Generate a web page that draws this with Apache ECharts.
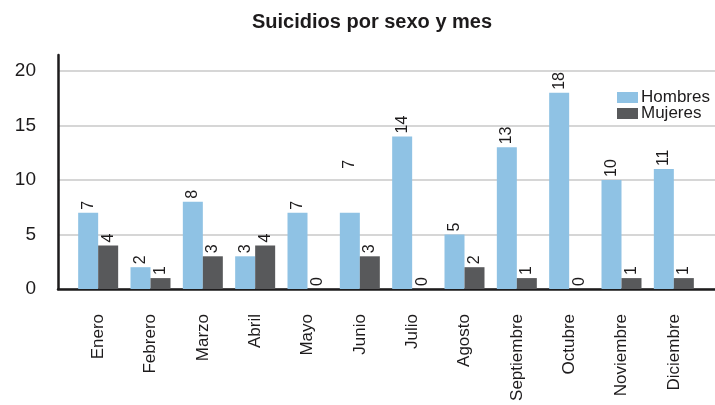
<!DOCTYPE html>
<html>
<head>
<meta charset="utf-8">
<script src="https://cdn.jsdelivr.net/npm/echarts@6/dist/echarts.min.js"></script>
<style>
  html, body { margin: 0; padding: 0; background: #fff; }
  #chart { width: 715px; height: 405px; }
</style>
</head>
<body>
<div id="chart"></div>
<script>
// Monthly suicide counts split by sex
const meses = ['Enero', 'Febrero', 'Marzo', 'Abril', 'Mayo', 'Junio', 'Julio',
  'Agosto', 'Septiembre', 'Octubre', 'Noviembre', 'Diciembre'];
const hombres = [7, 2, 8, 3, 7, 7, 14, 5, 13, 18, 10, 11];
const mujeres = [4, 1, 3, 4, 0, 3, 0, 2, 1, 0, 1, 1];
const yTicks = [0, 5, 10, 15, 20];

const FONT = '"Liberation Sans", Arial, Helvetica, sans-serif';
const INK = '#1d1b1c';

const chart = echarts.init(document.getElementById('chart'));

const valueLabel = {
  show: true,
  position: 'top',
  rotate: 90,
  align: 'left',
  verticalAlign: 'middle',
  distance: 3,
  color: INK,
  fontFamily: FONT,
  fontSize: 16
};

// June's male label sits well above its bar
const hombresData = hombres.map((v, i) =>
  meses[i] === 'Junio' ? { value: v, label: { distance: 44 } } : v);

chart.setOption({
  animation: false,
  title: {
    text: 'Suicidios por sexo y mes',
    left: 247,
    top: 7,
    textStyle: { fontFamily: FONT, fontSize: 20, fontWeight: 'bold', color: INK }
  },
  legend: {
    orient: 'vertical',
    left: 612,
    top: 84,
    itemWidth: 21,
    itemHeight: 11,
    itemGap: -1,
    icon: 'rect',
    textStyle: { fontFamily: FONT, fontSize: 17, color: INK, padding: [0, 0, 0, -2] },
    data: ['Hombres', 'Mujeres']
  },
  grid: [
    // gridlines and tick labels
    { left: 58, right: 0, top: 71, bottom: 116 },
    // frame lines (taller vertical axis)
    { left: 58, right: 0, top: 55, bottom: 116 },
    // bars
    { left: 72, right: 15, top: 71, bottom: 116 }
  ],
  xAxis: [
    { gridIndex: 0, type: 'value', show: false },
    {
      gridIndex: 1, type: 'value', min: 0, max: 1,
      axisLine: { show: true, onZero: false, lineStyle: { color: INK, width: 2.5 } },
      axisTick: { show: false }, axisLabel: { show: false }, splitLine: { show: false }
    },
    {
      gridIndex: 2, type: 'category', data: meses,
      axisLine: { show: false }, axisTick: { show: false },
      axisLabel: {
        rotate: 90, margin: 25, interval: 0,
        color: INK, fontFamily: FONT, fontSize: 17
      }
    }
  ],
  yAxis: [
    {
      gridIndex: 0, type: 'value', min: yTicks[0], max: yTicks[yTicks.length - 1],
      interval: yTicks[1] - yTicks[0],
      axisLine: { show: false }, axisTick: { show: false },
      axisLabel: { margin: 22, color: INK, fontFamily: FONT, fontSize: 19 },
      splitLine: { show: true, lineStyle: { color: '#c8c8c8', width: 1.5 } }
    },
    {
      gridIndex: 1, type: 'value', min: 0, max: 1,
      axisLine: { show: true, lineStyle: { color: INK, width: 2.5 } },
      axisTick: { show: false }, axisLabel: { show: false }, splitLine: { show: false }
    },
    {
      gridIndex: 2, type: 'value', min: yTicks[0], max: yTicks[yTicks.length - 1],
      show: false
    }
  ],
  series: [
    {
      name: 'Hombres', type: 'bar', xAxisIndex: 2, yAxisIndex: 2,
      data: hombresData, barWidth: 20, barGap: '0%',
      itemStyle: { color: '#8fc2e4' },
      label: valueLabel
    },
    {
      name: 'Mujeres', type: 'bar', xAxisIndex: 2, yAxisIndex: 2,
      data: mujeres, barWidth: 20, barGap: '0%',
      itemStyle: { color: '#58595b' },
      label: valueLabel
    }
  ]
});
</script>
</body>
</html>
